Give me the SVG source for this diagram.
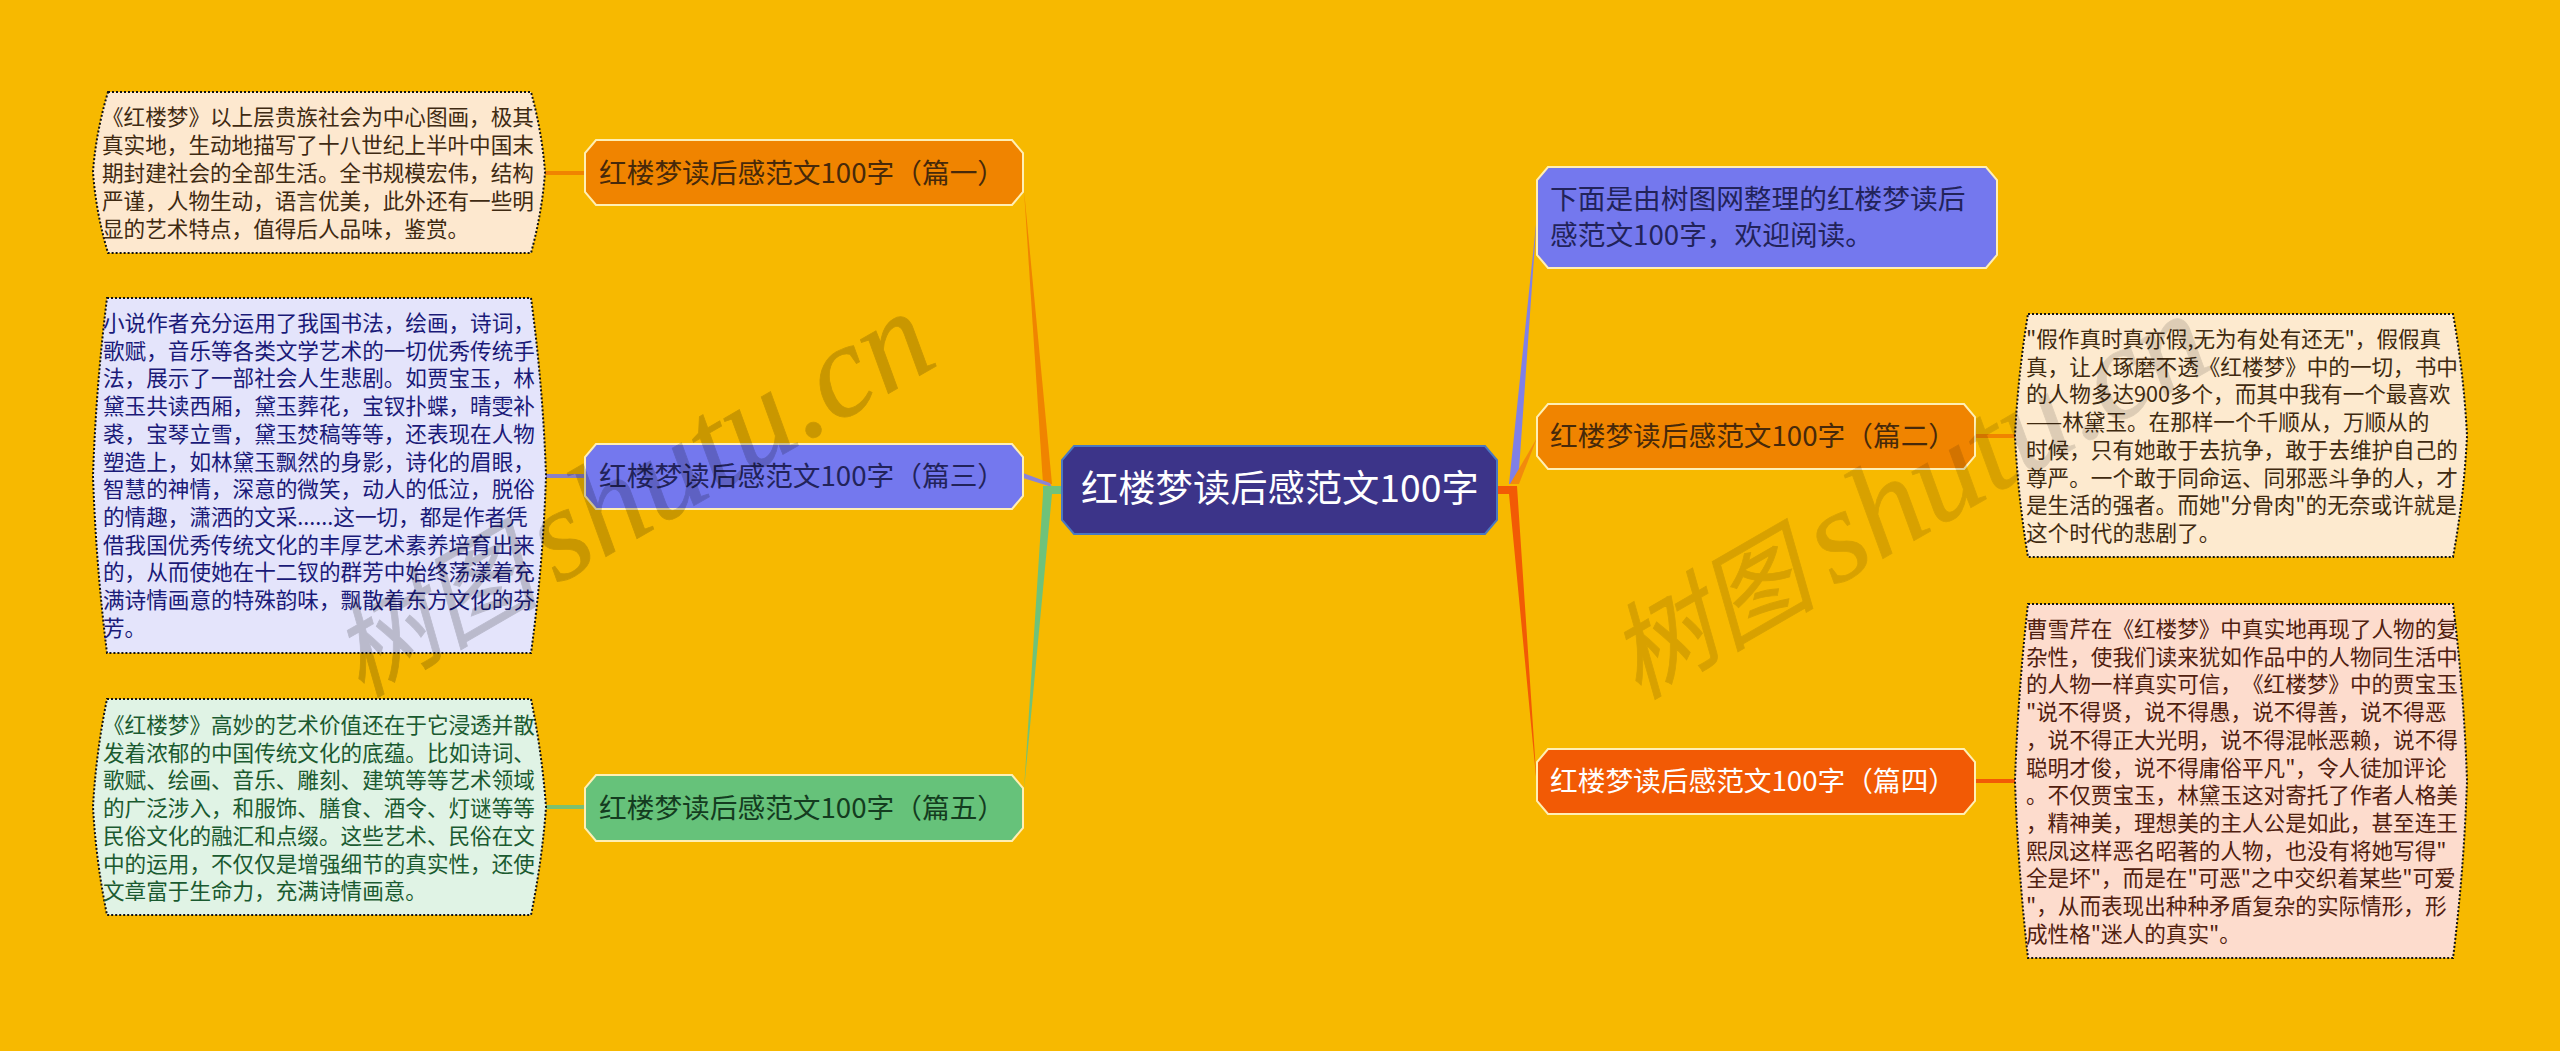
<svg xmlns="http://www.w3.org/2000/svg" width="2560" height="1051" viewBox="0 0 2560 1051">
<style>
text{font-family:"Noto Sans CJK SC","Noto Sans",sans-serif;text-spacing-trim:space-all}
.t{stroke:#ffefb4;stroke-width:2}
.d{stroke:#111;stroke-width:2;stroke-dasharray:2 2}
.h{font-size:27.7px}
.p{font-size:21.6px}
.wm{fill:#000;stroke:#000;stroke-width:.8;font-style:italic}
.wc{font-size:104px}
.wg{font-size:20px}
.wl{font-family:"Liberation Serif","Noto Sans CJK SC",serif;font-size:132px}
.orange{fill:#f08400}.purple{fill:#7478ee}.green{fill:#66c27a}.red{fill:#f25a05}
</style>
<rect width="2560" height="1051" fill="#f7b900"/>
<g id="connectors">
<polygon class="orange" points="1024,190 1043,484 1052,484"/>
<polygon fill="#8a84d8" points="1023,473 1050,483 1052,487 1023,478"/>
<polygon fill="#6fc27a" points="1043,486 1062,486 1062,494 1052,494 1024,790 1043,494"/>
<polygon fill="#8080e6" points="1509,484 1518,484 1537,215"/>
<polygon fill="#f28a0c" points="1510,484 1519,484 1537,438"/>
<polygon class="red" points="1497,486 1517,486 1537,787 1509,494 1497,494"/>
<rect x="545" y="171" width="40" height="4" class="orange"/>
<rect x="546" y="474" width="39" height="4" fill="#8a80c4"/>
<rect x="546" y="805" width="39" height="4" fill="#7cc070"/>
<rect x="1975" y="434" width="41" height="4" fill="#f08400"/>
<rect x="1975" y="779" width="41" height="4" class="red"/>
</g>
<g id="center">
<polygon points="1074,446 1485,446 1497,460 1497,520 1485,534 1074,534 1062,520 1062,460" fill="#3c3489" stroke="#4a78c0" stroke-width="2"/>
<text x="1081" y="502" font-size="37.3" fill="#fff">红楼梦读后感范文100字</text>
</g>
<g id="topic-intro">
<polygon class="t purple" points="1548,167 1986,167 1997,180 1997,255 1986,268 1548,268 1537,255 1537,180"/>
<text class="h" fill="#22235a"><tspan x="1550" y="209">下面是由树图网整理的红楼梦读后</tspan><tspan x="1550" y="245">感范文100字，欢迎阅读。</tspan></text>
</g>
<g id="topic-1">
<polygon class="t orange" points="596,140 1012,140 1023,153 1023,192 1012,205 596,205 585,192 585,153"/>
<text class="h" x="599" y="183" fill="#47290a">红楼梦读后感范文100字（篇一）</text>
</g>
<g id="topic-3">
<polygon class="t purple" points="596,444 1012,444 1023,457 1023,496 1012,509 596,509 585,496 585,457"/>
<text class="h" x="599" y="486" fill="#22235a">红楼梦读后感范文100字（篇三）</text>
</g>
<g id="topic-5">
<polygon class="t green" points="596,775 1012,775 1023,788 1023,828 1012,841 596,841 585,828 585,788"/>
<text class="h" x="599" y="818" fill="#143c20">红楼梦读后感范文100字（篇五）</text>
</g>
<g id="topic-2">
<polygon class="t orange" points="1548,404 1964,404 1975,417 1975,456 1964,469 1548,469 1537,456 1537,417"/>
<text class="h" x="1550" y="446" fill="#47290a">红楼梦读后感范文100字（篇二）</text>
</g>
<g id="topic-4">
<polygon class="t red" points="1548,749 1964,749 1975,762 1975,801 1964,814 1548,814 1537,801 1537,762"/>
<text class="h" x="1550" y="791" fill="#fff">红楼梦读后感范文100字（篇四）</text>
</g>
<g id="detail-1">
<path class="d" fill="#fde8cf" d="M108,92H531Q542,132 545,172Q542,213 531,253H108Q96,213 93,172Q96,132 108,92Z"/>
<text class="p" fill="#3f2a12"><tspan x="102" y="125">《红楼梦》以上层贵族社会为中心图画，极其</tspan><tspan x="102" y="153">真实地，生动地描写了十八世纪上半叶中国末</tspan><tspan x="102" y="181">期封建社会的全部生活。全书规模宏伟，结构</tspan><tspan x="102" y="209">严谨，人物生动，语言优美，此外还有一些明</tspan><tspan x="102" y="237">显的艺术特点，值得后人品味，鉴赏。</tspan></text>
</g>
<g id="detail-3">
<path class="d" fill="#e4e4fb" d="M107,298H531Q543,387 546,476Q543,565 531,653H107Q96,565 93,476Q96,387 107,298Z"/>
<text class="p" fill="#1a1a78"><tspan x="103" y="331">小说作者充分运用了我国书法，绘画，诗词，</tspan><tspan x="103" y="358.7">歌赋，音乐等各类文学艺术的一切优秀传统手</tspan><tspan x="103" y="386.4">法，展示了一部社会人生悲剧。如贾宝玉，林</tspan><tspan x="103" y="414.1">黛玉共读西厢，黛玉葬花，宝钗扑蝶，晴雯补</tspan><tspan x="103" y="441.8">裘，宝琴立雪，黛玉焚稿等等，还表现在人物</tspan><tspan x="103" y="469.5">塑造上，如林黛玉飘然的身影，诗化的眉眼，</tspan><tspan x="103" y="497.2">智慧的神情，深意的微笑，动人的低泣，脱俗</tspan><tspan x="103" y="524.9">的情趣，潇洒的文采......这一切，都是作者凭</tspan><tspan x="103" y="552.6">借我国优秀传统文化的丰厚艺术素养培育出来</tspan><tspan x="103" y="580.3">的，从而使她在十二钗的群芳中始终荡漾着充</tspan><tspan x="103" y="608">满诗情画意的特殊韵味，飘散着东方文化的芬</tspan><tspan x="103" y="635.7">芳。</tspan></text>
</g>
<g id="detail-5">
<path class="d" fill="#e0f3e5" d="M107,699H531Q542,753 546,807Q542,861 531,915H107Q96,861 93,807Q96,753 107,699Z"/>
<text class="p" fill="#1a5a30"><tspan x="103" y="733">《红楼梦》高妙的艺术价值还在于它浸透并散</tspan><tspan x="103" y="760.7">发着浓郁的中国传统文化的底蕴。比如诗词、</tspan><tspan x="103" y="788.4">歌赋、绘画、音乐、雕刻、建筑等等艺术领域</tspan><tspan x="103" y="816.1">的广泛涉入，和服饰、膳食、酒令、灯谜等等</tspan><tspan x="103" y="843.8">民俗文化的融汇和点缀。这些艺术、民俗在文</tspan><tspan x="103" y="871.5">中的运用，不仅仅是增强细节的真实性，还使</tspan><tspan x="103" y="899.2">文章富于生命力，充满诗情画意。</tspan></text>
</g>
<g id="detail-2">
<path class="d" fill="#fdeacf" d="M2028,314H2453Q2464,375 2467,436Q2464,497 2453,557H2028Q2018,497 2015,436Q2018,375 2028,314Z"/>
<text class="p" fill="#402a10"><tspan x="2026" y="347">"假作真时真亦假,无为有处有还无"，假假真</tspan><tspan x="2026" y="374.7">真，让人琢磨不透《红楼梦》中的一切，书中</tspan><tspan x="2026" y="402.4">的人物多达900多个，而其中我有一个最喜欢</tspan><tspan x="2026" y="430.1">——林黛玉。在那样一个千顺从，万顺从的</tspan><tspan x="2026" y="457.8">时候，只有她敢于去抗争，敢于去维护自己的</tspan><tspan x="2026" y="485.5">尊严。一个敢于同命运、同邪恶斗争的人，才</tspan><tspan x="2026" y="513.2">是生活的强者。而她"分骨肉"的无奈或许就是</tspan><tspan x="2026" y="540.9">这个时代的悲剧了。</tspan></text>
</g>
<g id="detail-4">
<path class="d" fill="#fddccd" d="M2028,604H2453Q2464,692 2467,781Q2464,870 2453,958H2028Q2018,870 2015,781Q2018,692 2028,604Z"/>
<text class="p" fill="#50200f"><tspan x="2026" y="637">曹雪芹在《红楼梦》中真实地再现了人物的复</tspan><tspan x="2026" y="664.7">杂性，使我们读来犹如作品中的人物同生活中</tspan><tspan x="2026" y="692.4">的人物一样真实可信，《红楼梦》中的贾宝玉</tspan><tspan x="2026" y="720.1">"说不得贤，说不得愚，说不得善，说不得恶</tspan><tspan x="2026" y="747.8">，说不得正大光明，说不得混帐恶赖，说不得</tspan><tspan x="2026" y="775.5">聪明才俊，说不得庸俗平凡"，令人徒加评论</tspan><tspan x="2026" y="803.2">。不仅贾宝玉，林黛玉这对寄托了作者人格美</tspan><tspan x="2026" y="830.9">，精神美，理想美的主人公是如此，甚至连王</tspan><tspan x="2026" y="858.6">熙凤这样恶名昭著的人物，也没有将她写得"</tspan><tspan x="2026" y="886.3">全是坏"，而是在"可恶"之中交织着某些"可爱</tspan><tspan x="2026" y="914">"，从而表现出种种矛盾复杂的实际情形，形</tspan><tspan x="2026" y="941.7">成性格"迷人的真实"。</tspan></text>
</g>
<g id="watermarks">
<g opacity=".18"><text class="wm" transform="translate(361,698) rotate(-30)"><tspan class="wc">树图</tspan><tspan class="wg"> </tspan><tspan class="wl" dx="14">shutu.cn</tspan></text></g>
<g opacity=".12"><text class="wm" transform="translate(1638,700) rotate(-30)"><tspan class="wc">树图</tspan><tspan class="wg"> </tspan><tspan class="wl" dx="14">shutu.cn</tspan></text></g>
</g>
</svg>
